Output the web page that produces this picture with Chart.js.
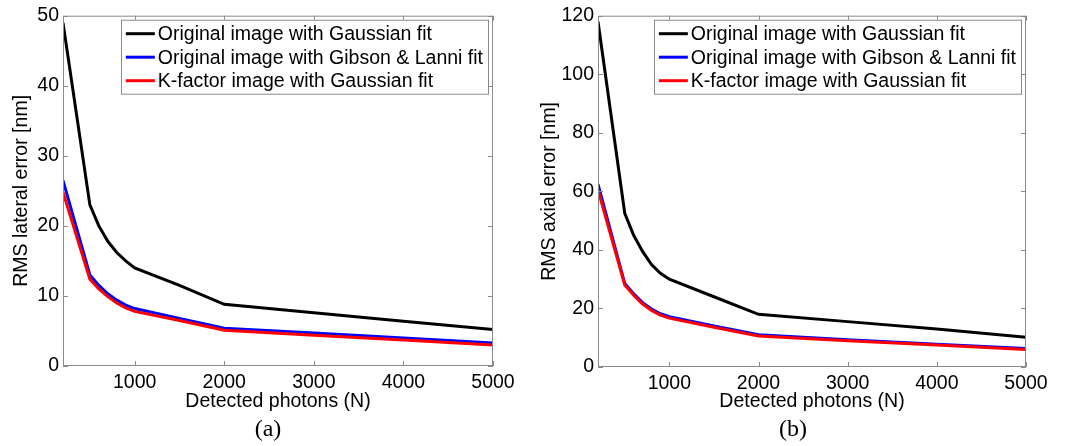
<!DOCTYPE html>
<html>
<head>
<meta charset="utf-8">
<script src="https://cdn.jsdelivr.net/npm/chart.js@4.4.1/dist/chart.umd.min.js"></script>
<style>
  html, body { margin: 0; padding: 0; background: #fff; }
  #wrap { position: relative; width: 1084px; height: 446px; overflow: hidden; }
  .panel { position: absolute; top: 0; height: 446px; }
  #panel-a { left: 0; width: 532px; }
  #panel-b { left: 532px; width: 552px; }
</style>
</head>
<body>
<div id="wrap">
  <div class="panel" id="panel-a"><canvas id="chart-a" width="532" height="446"></canvas></div>
  <div class="panel" id="panel-b"><canvas id="chart-b" width="552" height="446"></canvas></div>
</div>
<script>
// shared x values (detected photons)
const photons = [200, 500, 600, 700, 800, 900, 1000, 1500, 2000, 3000, 4000, 5000];
const xTicks = [1000, 2000, 3000, 4000, 5000];
const seriesNames = [
  'Original image with Gaussian fit',
  'Original image with Gibson & Lanni fit',
  'K-factor image with Gaussian fit',
];
const seriesColors = ['#000000', '#0000ff', '#ff0000'];

// (a) lateral error [nm]
const lateralGaussian = [49, 23, 20, 17.8, 16.2, 15, 14, 11.5, 8.8, 7.6, 6.4, 5.2];
const lateralGibson   = [26.5, 13, 11.5, 10.3, 9.4, 8.7, 8.2, 6.8, 5.4, 4.7, 4.0, 3.3];
const lateralKfactor  = [24.8, 12.4, 11, 9.9, 9.0, 8.3, 7.8, 6.5, 5.1, 4.4, 3.7, 3.0];
const lateralTicks = [0, 10, 20, 30, 40, 50];

// (b) axial error [nm]
const axialGaussian = [118, 52.5, 45, 39.5, 35, 32, 30, 24, 18, 15.5, 13, 10.2];
const axialGibson   = [62.5, 28.5, 25, 22, 19.8, 18.2, 17.2, 14, 11, 9.3, 7.8, 6.3];
const axialKfactor  = [60.5, 28, 24.5, 21.5, 19.3, 17.7, 16.7, 13.6, 10.6, 9.0, 7.5, 6.0];
const axialTicks = [0, 20, 40, 60, 80, 100, 120];

const BOX = '#8a8a8a';
const FONT = 'Arial, "Liberation Sans", sans-serif';

// MATLAB-like box with inward ticks on all four sides
const boxPlugin = {
  id: 'matlabBox',
  afterDatasetsDraw(chart) {
    const { ctx, chartArea: a, scales } = chart;
    ctx.save();
    ctx.strokeStyle = BOX;
    ctx.lineWidth = 1;
    ctx.strokeRect(a.left + 0.5, a.top + 0.5, a.right - a.left - 1, a.bottom - a.top - 1);
    ctx.beginPath();
    scales.x.ticks.forEach(t => {
      const px = Math.round(scales.x.getPixelForValue(t.value)) + 0.5;
      ctx.moveTo(px, a.bottom); ctx.lineTo(px, a.bottom - 5);
      ctx.moveTo(px, a.top); ctx.lineTo(px, a.top + 5);
    });
    scales.y.ticks.forEach(t => {
      const py = Math.round(scales.y.getPixelForValue(t.value)) + 0.5;
      ctx.moveTo(a.left, py); ctx.lineTo(a.left + 5, py);
      ctx.moveTo(a.right, py); ctx.lineTo(a.right - 5, py);
    });
    ctx.stroke();
    ctx.restore();
  },
  afterDraw(chart) {
    const { ctx, chartArea: a } = chart;
    const opts = chart.options.plugins.matlabBox;
    // legend inside the top-right corner
    ctx.save();
    ctx.font = '19.5px ' + FONT;
    const sets = chart.data.datasets;
    const textW = Math.max(...sets.map(d => ctx.measureText(d.label).width));
    const lineLen = 29, gap = 3, pad = 5, rowH = 23.5;
    const w = pad + lineLen + gap + textW + pad;
    const h = 74;
    const x0 = a.right - 5 - w, y0 = a.top + 4;
    ctx.fillStyle = '#fff';
    ctx.fillRect(x0, y0, w, h);
    ctx.strokeStyle = BOX;
    ctx.lineWidth = 1;
    ctx.strokeRect(Math.round(x0) + 0.5, y0 + 0.5, Math.round(w), h);
    ctx.textBaseline = 'middle';
    sets.forEach((d, i) => {
      const cy = y0 + 14 + i * rowH;
      ctx.strokeStyle = d.borderColor;
      ctx.lineWidth = 3;
      ctx.beginPath();
      ctx.moveTo(x0 + pad, cy); ctx.lineTo(x0 + pad + lineLen, cy);
      ctx.stroke();
      ctx.fillStyle = '#000';
      ctx.fillText(d.label, x0 + pad + lineLen + gap, cy + 1);
    });
    // panel caption
    ctx.font = '24px "Liberation Serif", "Times New Roman", serif';
    ctx.textAlign = 'center';
    ctx.fillText(opts.caption, opts.captionX, 430);
    ctx.restore();
  }
};

function makeChart(canvasId, cfg) {
  const datasets = [cfg.gaussian, cfg.gibson, cfg.kfactor].map((vals, i) => ({
    label: seriesNames[i],
    data: photons.map((p, k) => ({ x: p, y: vals[k] })),
    borderColor: seriesColors[i],
    borderWidth: 3,
    pointRadius: 0,
    tension: 0,
    fill: false,
    order: 3 - i,
  }));

  return new Chart(document.getElementById(canvasId), {
    type: 'line',
    data: { datasets },
    options: {
      responsive: false,
      animation: false,
      events: [],
      layout: { padding: { left: 0, top: 15, right: cfg.padRight, bottom: 0 } },
      plugins: {
        legend: { display: false },
        tooltip: { enabled: false },
        matlabBox: { caption: cfg.caption, captionX: cfg.captionX },
      },
      scales: {
        x: {
          type: 'linear',
          min: 200,
          max: 5000,
          afterBuildTicks: s => { s.ticks = xTicks.map(v => ({ value: v })); },
          afterFit: s => { s.height = 446 - 15 - cfg.plotH; },
          grid: { display: false, drawTicks: false },
          border: { display: false },
          ticks: {
            color: '#000', font: { size: 19.5, family: FONT }, padding: 5, maxRotation: 0,
            callback: v => String(v),
          },
          title: {
            display: true, text: 'Detected photons (N)', color: '#000',
            font: { size: 19.5, family: FONT, lineHeight: 1.2 },
            padding: { top: 0, bottom: 33 },
          },
        },
        y: {
          min: 0,
          max: cfg.yTicks[cfg.yTicks.length - 1],
          afterBuildTicks: s => { s.ticks = cfg.yTicks.map(v => ({ value: v })); },
          afterFit: s => { s.width = cfg.axisW; },
          grid: { display: false, drawTicks: false },
          border: { display: false },
          ticks: {
            color: '#000', font: { size: 19.5, family: FONT }, padding: 4,
            callback: v => String(v),
          },
          title: {
            display: true, text: cfg.yTitle, color: '#000',
            font: { size: 19.5, family: FONT, lineHeight: 1.2 },
            padding: { top: cfg.titlePad, bottom: 0 },
          },
        },
      },
    },
    plugins: [boxPlugin],
  });
}

makeChart('chart-a', {
  gaussian: lateralGaussian, gibson: lateralGibson, kfactor: lateralKfactor,
  yTicks: lateralTicks, yTitle: 'RMS lateral error [nm]',
  axisW: 63, padRight: 39, plotH: 351, titlePad: 10,
  caption: '(a)', captionX: 268,
});

makeChart('chart-b', {
  gaussian: axialGaussian, gibson: axialGibson, kfactor: axialKfactor,
  yTicks: axialTicks, yTitle: 'RMS axial error [nm]',
  axisW: 66, padRight: 58, plotH: 352, titlePad: 6,
  caption: '(b)', captionX: 261,
});
</script>
</body>
</html>
